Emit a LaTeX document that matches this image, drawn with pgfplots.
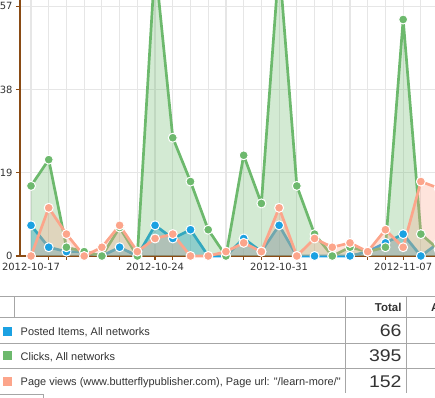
\documentclass[border=0pt]{standalone}
\usepackage{pgfplots}
\pgfplotsset{compat=1.18}
\usepackage{pgfplotstable}
\usepackage{fontspec}
\setmainfont{DejaVu Sans}
\newfontfamily\arialf{Liberation Sans}
\definecolor{cblue}{HTML}{1BA1E2}
\definecolor{cgreen}{HTML}{6DB96D}
\definecolor{cpink}{HTML}{FCA58B}
\definecolor{cbrown}{HTML}{8A4B14}
\definecolor{cgrid}{HTML}{E6E6E6}
\definecolor{cline}{HTML}{A6A6A6}
\definecolor{ctext}{HTML}{333333}

\pgfplotstableread{
d blue green pink
0 7 16 0
1 2 22 11
2 1 2 5
3 1 1 0
4 0 0 2
5 2 6.5 7
6 0 0 1
7 7 67 4
8 4 27 5
9 6 17 0
10 0 6 0
11 0 0 1
12 4 23 3
13 1 12 1
14 7 67 11
15 0 16 0
16 0 5 4
17 0 0 2
18 0 2 3
19 1 1 1
20 3 2 6
21 5 54 2
22 0 5 17
23 3 1.5 15.5
}\data

\begin{document}
\begin{tikzpicture}
\useasboundingbox (0,0) rectangle (435bp,398bp);
\clip (0,0) rectangle (435bp,398bp);
\begin{axis}[
  at={(20bp,142bp)}, anchor=south west,
  scale only axis, width=415bp, height=256bp,
  xmin=-0.6215, xmax=22.797, ymin=0, ymax=58.45,
  clip=false,
  axis x line*=bottom, axis y line*=left,
  x axis line style={cbrown, line width=2bp, -},
  y axis line style={cbrown, line width=2.3bp, -},
  tick align=outside,
  major tick length=4bp,
  tick style={cbrown, line width=1.2bp},
  xtick={0,...,22},
  xticklabels={2012-10-17,,,,,,,2012-10-24,,,,,,,2012-10-31,,,,,,,2012-11-07},
  ytick={0,19,38,57},
  yticklabels={0,19,38,57},
  grid=major,
  major grid style={cgrid, line width=1.2bp},
  xticklabel style={font=\fontsize{10}{12}\selectfont, text=ctext},
  yticklabel style={font=\fontsize{10}{12}\selectfont, text=ctext},
  /pgf/number format/assume math mode=true,
]
\addplot[draw=none, fill=cblue, fill opacity=0.42, forget plot] table[x=d,y=blue]{\data} \closedcycle;
\addplot[cblue, line width=2.7bp, line join=round, mark=*, mark size=4.5bp, mark options={fill=cblue, draw=white, line width=1bp}] table[x=d,y=blue]{\data};
\addplot[draw=none, fill=cgreen, fill opacity=0.3, forget plot] table[x=d,y=green]{\data} \closedcycle;
\addplot[cgreen, line width=2.7bp, line join=round, mark=*, mark size=4.5bp, mark options={fill=cgreen, draw=white, line width=1bp}] table[x=d,y=green]{\data};
\addplot[draw=none, fill=cpink, fill opacity=0.3, forget plot] table[x=d,y=pink]{\data} \closedcycle;
\addplot[cpink, line width=2.7bp, line join=round, mark=*, mark size=4.5bp, mark options={fill=cpink, draw=white, line width=1bp}] table[x=d,y=pink]{\data};
\end{axis}

\begin{scope}[shift={(0bp,398bp)}, x=1bp, y=-1bp]
  \begin{scope}[cline, line width=1bp]
    \draw (0,297) -- (435,297);
    \draw (0,318) -- (435,318);
    \draw (0,344) -- (435,344);
    \draw (0,368.5) -- (435,368.5);
    \draw (14.3,297) -- (14.3,318);
    \draw (345,297) -- (345,393);
    \draw (406,297) -- (406,393);
    \draw (0,394.5) -- (43.3,394.5) -- (43.3,399);
  \end{scope}
  \node[anchor=base east, inner sep=0, text=ctext, font=\arialf\bfseries\fontsize{11.5}{13}\selectfont] at (401.7,311.7) {Total};
  \node[anchor=base west, inner sep=0, text=ctext, font=\arialf\bfseries\fontsize{11.5}{13}\selectfont] at (431,311.7) {A};
  \fill[cblue] (2.7,326.7) rectangle (11.7,335.7);
  \fill[cgreen] (2.7,351.5) rectangle (11.7,360.5);
  \fill[cpink] (2.7,377) rectangle (11.7,386);
  \node[anchor=base west, inner sep=0, text=ctext, font=\arialf\fontsize{11}{13}\selectfont] at (20.5,335.7) {Posted Items, All networks};
  \node[anchor=base west, inner sep=0, text=ctext, font=\arialf\fontsize{11}{13}\selectfont] at (20.5,360.3) {Clicks, All networks};
  \node[anchor=base west, inner sep=0, text=ctext, font=\arialf\fontsize{11}{13}\selectfont] at (20.5,386) {Page views (www.butterflypublisher.com), Page url: "/learn-more/"};
  \node[anchor=base east, inner sep=0, text=ctext, font=\arialf\fontsize{17}{19}\selectfont] at (401.7,336.7) {\scalebox{1.15}[1]{66}};
  \node[anchor=base east, inner sep=0, text=ctext, font=\arialf\fontsize{17}{19}\selectfont] at (401.7,361.7) {\scalebox{1.15}[1]{395}};
  \node[anchor=base east, inner sep=0, text=ctext, font=\arialf\fontsize{17}{19}\selectfont] at (401.7,387.3) {\scalebox{1.15}[1]{152}};
\end{scope}
\end{tikzpicture}
\end{document}
